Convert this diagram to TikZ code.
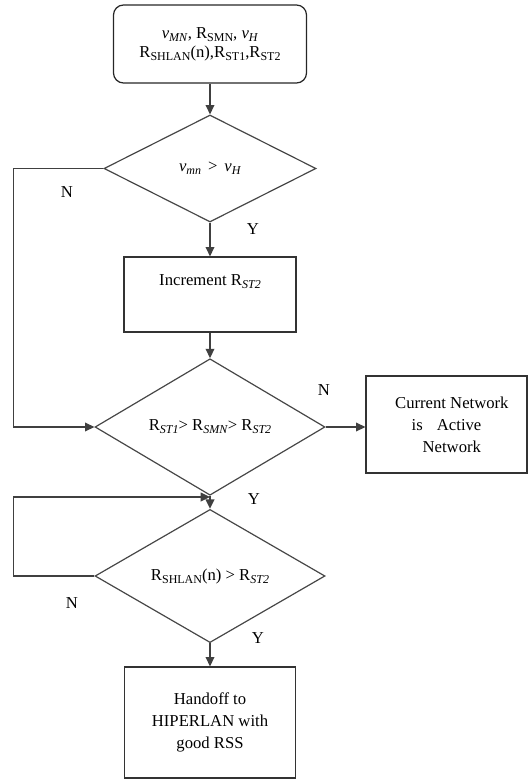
\documentclass[tikz,border=0pt]{standalone}
\usepackage{fontspec}
\setmainfont{Liberation Serif}
\usetikzlibrary{shapes.geometric,arrows.meta}
\newcommand{\sbs}[1]{\raisebox{-0.4ex}{\fontsize{9}{9}\selectfont #1}}
\begin{document}
\begin{tikzpicture}[x=0.75pt,y=-0.75pt,
  every node/.style={font=\fontsize{12.5}{16.5}\selectfont},
  conn/.style={draw=black!75,line width=1.1pt},
  arr/.style={conn,-{Triangle[length=7pt,width=6.5pt]}},
  decision/.style={diamond,draw=black!72,line width=0.9pt,inner sep=0pt,align=center},
  procbox/.style={rectangle,draw=black!80,line width=0.9pt,inner sep=0pt,align=center},
  startbox/.style={rectangle,rounded corners=7.5pt,draw=black!85,line width=0.9pt,inner sep=0pt,align=center},
  yn/.style={inner sep=0pt}]
\useasboundingbox (0,0) rectangle (528,780);
\node[startbox,minimum width=144.75pt,minimum height=58.5pt,
      font=\fontsize{12.5}{14.25}\selectfont] (top) at (210,44)
  {\textit{v}\sbs{\textit{MN}}, R\sbs{SMN}, \textit{v}\sbs{\textit{H}}\\R\sbs{SHLAN}(n),R\sbs{ST1},R\sbs{ST2}};
\node[decision,minimum width=159pt,minimum height=80.25pt] (d1) at (210,168.5)
  {\textit{v}\sbs{\textit{mn}} \,>\, \textit{v}\sbs{\textit{H}}};
\node[procbox,minimum width=129pt,minimum height=56.25pt] (inc) at (210,294.5)
  {Increment R\sbs{\textit{ST2}}\\\strut};
\node[decision,minimum width=172.5pt,minimum height=87pt] (d2) at (210,427)
  {R\sbs{\textit{ST1}}> R\sbs{\textit{SMN}}> R\sbs{\textit{ST2}}};
\node[procbox,minimum width=120.75pt,minimum height=72.75pt] (cur) at (446.5,424.5)
  {\hspace*{8pt}Current Network\\is\hspace{0.6em} Active\\\hspace*{8pt}Network};
\node[decision,minimum width=172.5pt,minimum height=87.75pt] (d3) at (210,576)
  {R\sbs{SHLAN}(n) > R\sbs{\textit{ST2}}};
\node[procbox,minimum width=128.25pt,minimum height=83.25pt] (hand) at (210,722.5)
  {Handoff to\\HIPERLAN with\\good RSS};
\coordinate (join) at (210,497);
\draw[arr] (top.south) -- (d1.north);
\draw[arr] (d1.south) -- (inc.north);
\draw[arr] (inc.south) -- (d2.north);
\draw[arr] (d1.west) -- ++(-90,0) |- (d2.west);
\draw[arr] (d2.east) -- (d2.east -| cur.west);
\draw[arr] (d2.south) -- (d3.north);
\draw[arr] (d3.west) -- ++(-81,0) |- (join);
\draw[arr] (d3.south) -- (hand.north);
\node[yn] (n1) at (67,192) {N};
\node[yn] (y1) at (253,229) {Y};
\node[yn] (n2) at (324,390) {N};
\node[yn] (y2) at (254,499) {Y};
\node[yn] (n3) at (72,603) {N};
\node[yn] (y3) at (258,638) {Y};
\end{tikzpicture}
\end{document}
